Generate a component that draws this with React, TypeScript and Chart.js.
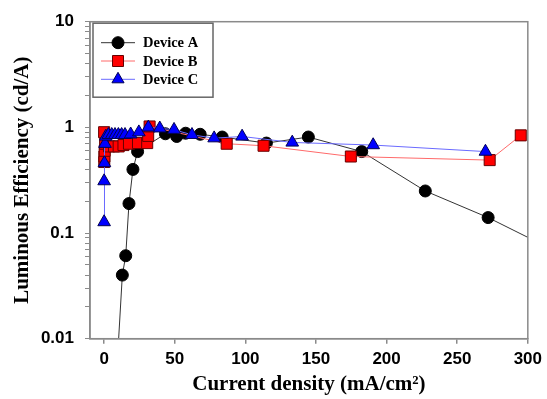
import { useEffect, useRef } from 'react';
import { Chart, registerables } from 'chart.js';

Chart.register(...registerables);

const seriesNames = ['Device A', 'Device B', 'Device C'];

const xA = [8, 12.9, 15.3, 17.6, 20.4, 23.7, 43.4, 51.4, 57.7, 68, 83.6, 114.9, 144.6, 182.4, 227.4, 271.9, 320];
const yA = [0.003, 0.04, 0.061, 0.19, 0.4, 0.59, 0.87, 0.82, 0.88, 0.86, 0.81, 0.71, 0.81, 0.59, 0.25, 0.14, 0.067];

const xB = [0, 0.1, 0.2, 0.4, 0.7, 3.5, 7, 10.3, 13.7, 17.6, 24, 30.5, 31.2, 32.2, 86.8, 112.9, 174.7, 273, 295];
const yB = [0.9, 0.47, 0.53, 0.6, 0.7, 0.66, 0.66, 0.66, 0.68, 0.7, 0.71, 0.71, 0.83, 1.02, 0.7, 0.67, 0.53, 0.49, 0.84];

const xC = [0, 0, 0.2, 0.6, 1.2, 3, 5.4, 7.7, 10.1, 12.4, 14.8, 18.8, 24.6, 31.3, 39.4, 49.5, 62.2, 77.9, 97.7, 133.2, 190.5, 270];
const yC = [0.127, 0.31, 0.46, 0.7, 0.82, 0.85, 0.85, 0.85, 0.85, 0.85, 0.85, 0.86, 0.9, 1.0, 0.98, 0.95, 0.85, 0.79, 0.82, 0.72, 0.68, 0.59];

const xTicks = [0, 50, 100, 150, 200, 250, 300];
const yMajorTicks = [0.01, 0.1, 1, 10];

const xTitle = 'Current density (mA/cm\u00B2)';
const yTitle = 'Luminous Efficiency (cd/A)';

const GRAY = '#8a8a8a';

function buildYTicks() {
  const out: number[] = [];
  for (let i = 0; i < yMajorTicks.length - 1; i++) {
    for (let m = 1; m <= 9; m++) out.push(parseFloat((yMajorTicks[i] * m).toPrecision(3)));
  }
  out.push(yMajorTicks[yMajorTicks.length - 1]);
  return out;
}

const toPts = (xs: number[], ys: number[]) => xs.map((x, i) => ({ x, y: ys[i] }));

export default function App() {
  const ref = useRef<HTMLCanvasElement>(null);
  useEffect(() => {
    document.body.style.margin = '0';
    const canvas = ref.current!;
    const yTickValues = buildYTicks();

    const framePlugin = {
      id: 'frame',
      afterDatasetsDraw(chart: any) {
        const { ctx, chartArea } = chart;
        ctx.save();
        ctx.strokeStyle = GRAY;
        ctx.lineWidth = 1.5;
        ctx.strokeRect(chartArea.left, chartArea.top, chartArea.right - chartArea.left, chartArea.bottom - chartArea.top);
        ctx.restore();
      },
    };

    const legendPlugin = {
      id: 'boxLegend',
      afterDraw(chart: any) {
        const { ctx, chartArea } = chart;
        const bx = chartArea.left + 3;
        const by = chartArea.top + 1.5;
        const bw = 120;
        const bh = 74;
        ctx.save();
        ctx.fillStyle = '#fff';
        ctx.fillRect(bx, by, bw, bh);
        ctx.strokeStyle = '#666';
        ctx.lineWidth = 1.5;
        ctx.strokeRect(bx, by, bw, bh);
        chart.data.datasets.forEach((ds: any, i: number) => {
          const cy = by + 19.5 + i * 18.3;
          const cx = bx + 25;
          ctx.strokeStyle = ds.borderColor;
          ctx.lineWidth = 1;
          ctx.beginPath();
          ctx.moveTo(bx + 8, cy);
          ctx.lineTo(bx + 42, cy);
          ctx.stroke();
          ctx.fillStyle = ds.pointBackgroundColor;
          ctx.strokeStyle = ds.pointBorderColor;
          ctx.beginPath();
          if (ds.pointStyle === 'circle') {
            ctx.arc(cx, cy, 6, 0, Math.PI * 2);
          } else if (ds.pointStyle === 'rect') {
            ctx.rect(cx - 5.5, cy - 5.5, 11, 11);
          } else {
            const r = 7;
            ctx.moveTo(cx, cy - r);
            ctx.lineTo(cx + r * Math.sin(Math.PI / 3), cy + r / 2);
            ctx.lineTo(cx - r * Math.sin(Math.PI / 3), cy + r / 2);
            ctx.closePath();
          }
          ctx.fill();
          ctx.stroke();
          ctx.fillStyle = '#000';
          ctx.font = 'bold 14.5px "Liberation Serif", "Times New Roman", serif';
          ctx.textBaseline = 'middle';
          ctx.textAlign = 'left';
          ctx.fillText(ds.label, bx + 50, cy + 1);
        });
        ctx.restore();
      },
    };

    const tickFont = { family: '"Liberation Sans", Arial, sans-serif', weight: 'bold', size: 17 };
    const titleFont = { family: '"Liberation Serif", "Times New Roman", serif', weight: 'bold', size: 21 };

    const chart = new Chart(canvas, {
      type: 'line',
      data: {
        datasets: [
          {
            label: seriesNames[0],
            data: toPts(xA, yA),
            borderColor: '#333333',
            borderWidth: 1,
            pointStyle: 'circle',
            pointRadius: 6,
            pointBackgroundColor: '#000000',
            pointBorderColor: '#000000',
            pointBorderWidth: 1,
            order: 3,
          },
          {
            label: seriesNames[1],
            data: toPts(xB, yB),
            borderColor: '#ff6a6a',
            borderWidth: 1,
            pointStyle: 'rect',
            pointRadius: 7.8,
            pointBackgroundColor: '#ff0000',
            pointBorderColor: '#660000',
            pointBorderWidth: 1,
            order: 2,
          },
          {
            label: seriesNames[2],
            data: toPts(xC, yC),
            borderColor: '#6a6aff',
            borderWidth: 1,
            pointStyle: 'triangle',
            pointRadius: 7.3,
            pointBackgroundColor: '#0000ff',
            pointBorderColor: '#000055',
            pointBorderWidth: 1,
            order: 1,
          },
        ] as any,
      },
      options: {
        animation: false,
        responsive: false,
        devicePixelRatio: 1,
        layout: { padding: { top: 21.7, right: 17, left: 0, bottom: 0 } },
        plugins: { legend: { display: false }, tooltip: { enabled: false } },
        scales: {
          x: {
            type: 'linear',
            min: -10,
            max: 300,
            afterBuildTicks: (s: any) => {
              s.ticks = xTicks.map((v) => ({ value: v }));
            },
            afterFit: (s: any) => {
              s.height = 60.3;
            },
            ticks: {
              autoSkip: false,
              maxRotation: 0,
              padding: 5,
              color: '#000',
              font: tickFont,
            },
            grid: { drawOnChartArea: false, drawTicks: true, tickLength: 5, color: GRAY, lineWidth: 1.5 },
            border: { display: true, color: GRAY, width: 1.5 },
            title: {
              display: true,
              text: xTitle,
              color: '#000',
              font: titleFont,
              padding: { top: 0, bottom: 1.5 },
            },
          },
          y: {
            type: 'logarithmic',
            min: 0.01,
            max: 10,
            afterBuildTicks: (s: any) => {
              s.ticks = yTickValues.map((v) => ({ value: v, major: yMajorTicks.includes(v) }));
            },
            afterFit: (s: any) => {
              s.width = 90;
            },
            ticks: {
              autoSkip: false,
              padding: 11,
              color: '#000',
              font: tickFont,
              callback: (v: any) => (yMajorTicks.includes(Number(v)) ? String(v) : ''),
            },
            grid: { drawOnChartArea: false, drawTicks: true, tickLength: 5, color: GRAY, lineWidth: 1 },
            border: { display: true, color: GRAY, width: 1.5 },
            title: {
              display: true,
              text: yTitle,
              color: '#000',
              font: titleFont,
              padding: { top: 9.5, bottom: 0 },
            },
          },
        },
      } as any,
      plugins: [framePlugin, legendPlugin],
    });
    return () => chart.destroy();
  }, []);
  return <canvas ref={ref} width={547} height={399} style={{ display: 'block' }} />;
}
